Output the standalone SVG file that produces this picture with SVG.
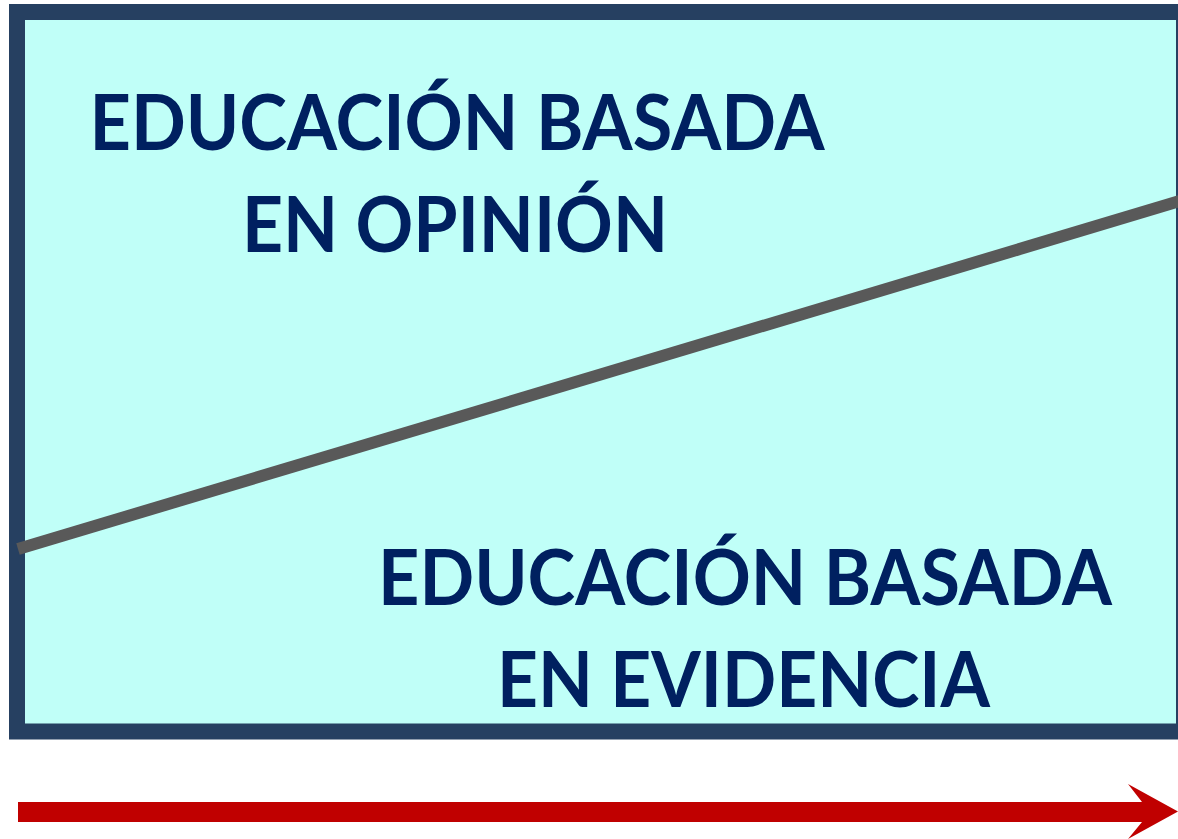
<svg xmlns="http://www.w3.org/2000/svg" width="1178" height="839" viewBox="0 0 1178 839">
<style>
.lbl{font-family:Lato,"Open Sans","Liberation Sans",sans-serif;font-weight:bold;font-size:77px;fill:#002060;text-anchor:middle}
</style>
<rect width="1178" height="839" fill="#ffffff"/>
<g id="frame">
<rect x="17" y="12" width="1167" height="719.5" fill="#C0FFF8" stroke="#264061" stroke-width="16"/>
</g>
<g id="connectors">
<line x1="18" y1="549" x2="1180" y2="201" stroke="#595959" stroke-width="12"/>
<path d="M18,802 H1142 L1128,784 L1178,811.5 L1128,839 L1142,822 H18 Z" fill="#C00000"/>
</g>
<g id="opinion">
<text class="lbl" x="457" y="150" textLength="735" lengthAdjust="spacingAndGlyphs">EDUCACIÓN BASADA</text>
<text class="lbl" x="455" y="252" textLength="426" lengthAdjust="spacingAndGlyphs">EN OPINIÓN</text>
</g>
<g id="evidencia">
<text class="lbl" x="745" y="605" textLength="734" lengthAdjust="spacingAndGlyphs">EDUCACIÓN BASADA</text>
<text class="lbl" x="743.5" y="707" textLength="493" lengthAdjust="spacingAndGlyphs">EN EVIDENCIA</text>
</g>
</svg>
